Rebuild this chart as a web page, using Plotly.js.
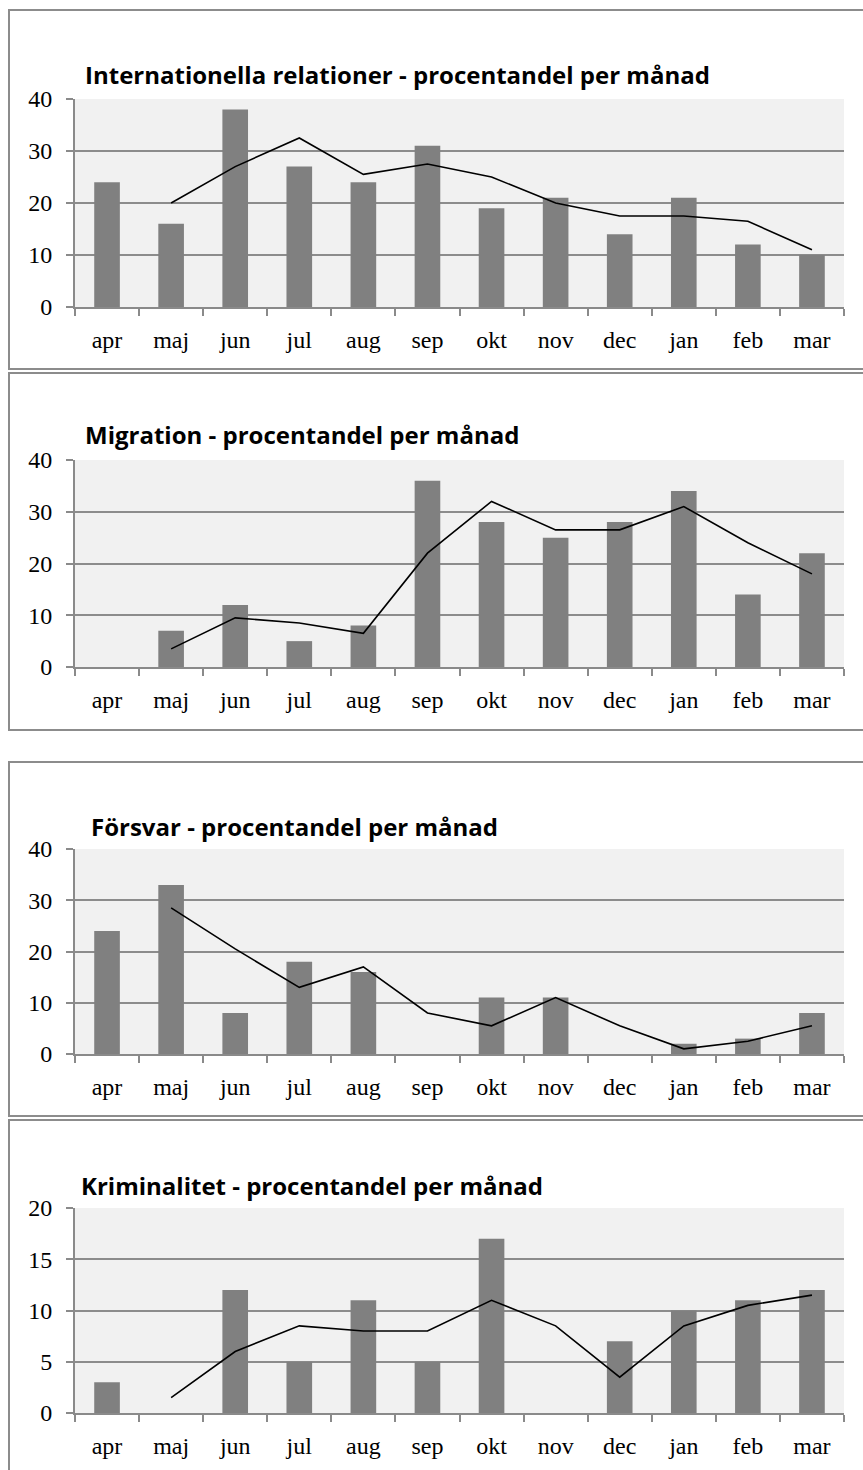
<!DOCTYPE html>
<html>
<head>
<meta charset="utf-8">
<script src="https://cdn.plot.ly/plotly-3.0.1.min.js"></script>
<style>html,body{margin:0;padding:0;background:#fff;}#chart{width:863px;height:1470px;}</style>
</head>
<body>
<div id="chart"></div>
<script>
const months = ["apr","maj","jun","jul","aug","sep","okt","nov","dec","jan","feb","mar"];

const titles = [
  "Internationella relationer - procentandel per månad",
  "Migration - procentandel per månad",
  "Försvar - procentandel per månad",
  "Kriminalitet - procentandel per månad"
];

const intlBars = [24,16,38,27,24,31,19,21,14,21,12,10];
const intlLine = [null,20,27,32.5,25.5,27.5,25,20,17.5,17.5,16.5,11];

const migBars = [0,7,12,5,8,36,28,25,28,34,14,22];
const migLine = [null,3.5,9.5,8.5,6.5,22,32,26.5,26.5,31,24,18];

const forsBars = [24,33,8,18,16,0,11,11,0,2,3,8];
const forsLine = [null,28.5,20.5,13,17,8,5.5,11,5.5,1,2.5,5.5];

const krimBars = [3,0,12,5,11,5,17,0,7,10,11,12];
const krimLine = [null,1.5,6,8.5,8,8,11,8.5,3.5,8.5,10.5,11.5];

const yMax = [40,40,40,20];
const yStep = [10,10,10,5];

const barsAll = [intlBars, migBars, forsBars, krimBars];
const linesAll = [intlLine, migLine, forsLine, krimLine];

const W = 863, H = 1470;
// plot area pixel boxes (top, bottom)
const plotBoxes = [[99,307],[460,667],[849,1054],[1208,1413]];
const plotLeft = 75, plotRight = 844;
const titleY = [75,434,826,1185];
const titleX = [83,83,89,79];
const frames = [[10,369],[373,730],[762,1116],[1120,1480]];

const px = v => v / W;
const py = v => 1 - v / H;

const data = [];
const layout = {
  width: W, height: H,
  margin: {l:0,r:0,t:0,b:0},
  paper_bgcolor: "#ffffff",
  plot_bgcolor: "#f1f1f1",
  showlegend: false,
  bargap: 0.6,
  annotations: [],
  shapes: []
};

const serif = "Liberation Serif, 'Times New Roman', serif";

for (let i = 0; i < 4; i++) {
  const s = i === 0 ? "" : String(i + 1);
  data.push({
    type: "bar", x: months, y: barsAll[i],
    xaxis: "x" + s, yaxis: "y" + s,
    marker: {color: "#808080", line: {width: 0}},
    hoverinfo: "x+y"
  });
  data.push({
    type: "scatter", mode: "lines", x: months, y: linesAll[i],
    xaxis: "x" + s, yaxis: "y" + s,
    line: {color: "#000000", width: 1.6},
    connectgaps: false
  });
  const [top, bot] = plotBoxes[i];
  layout["xaxis" + s] = {
    domain: [px(plotLeft), px(plotRight)],
    anchor: "y" + s,
    type: "category",
    range: [-0.5, 11.5],
    showgrid: false,
    zeroline: false,
    showline: true, linecolor: "#8a8a8a", linewidth: 2,
    ticks: "outside", tickson: "boundaries", ticklen: 7, tickcolor: "#8a8a8a", tickwidth: 2,
    tickfont: {family: serif, size: 24, color: "#000"},
    ticklabelstandoff: 10,
    fixedrange: true
  };
  layout["yaxis" + s] = {
    domain: [py(bot), py(top)],
    anchor: "x" + s,
    range: [0, yMax[i]],
    dtick: yStep[i], tick0: 0,
    showgrid: true, gridcolor: "#8c8c8c", gridwidth: 2,
    zeroline: false,
    showline: true, linecolor: "#8a8a8a", linewidth: 2,
    ticks: "outside", ticklen: 7, tickcolor: "#8a8a8a", tickwidth: 2,
    tickfont: {family: serif, size: 24, color: "#000"},
    ticklabelstandoff: 9,
    fixedrange: true
  };
  layout.annotations.push({
    text: "<b>" + titles[i] + "</b>",
    xref: "paper", yref: "paper",
    x: px(titleX[i]), y: py(titleY[i]),
    xanchor: "left", yanchor: "middle",
    showarrow: false,
    font: {family: "'Open Sans', 'Noto Sans', sans-serif", size: 24, color: "#000"}
  });
  const [ft, fb] = frames[i];
  layout.shapes.push({
    type: "rect", xref: "paper", yref: "paper", layer: "below",
    x0: px(9), x1: 1.02, y0: py(fb), y1: py(ft),
    line: {color: "#8c8c8c", width: 2},
    fillcolor: "rgba(0,0,0,0)"
  });
}

Plotly.newPlot("chart", data, layout, {displayModeBar: false, staticPlot: true});
</script>
</body>
</html>
